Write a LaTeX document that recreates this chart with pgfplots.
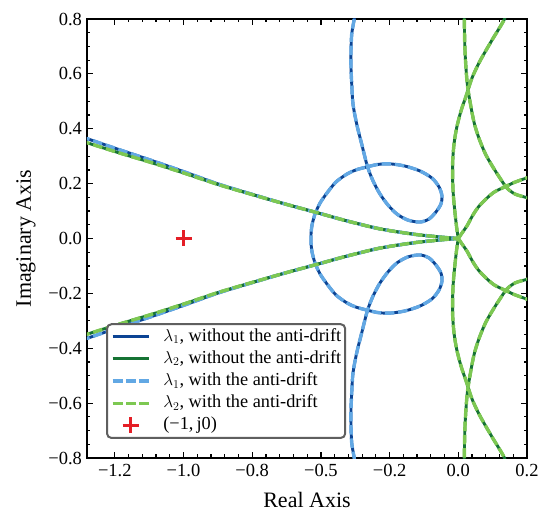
\documentclass[border=0pt]{standalone}
\usepackage{fontspec}
\setmainfont{Liberation Serif}
\usepackage{pgfplots}
\pgfplotsset{compat=1.18}
\usepackage{pgfplotstable}

\definecolor{cdblue}{RGB}{12,68,148}
\definecolor{cdgreen}{RGB}{22,115,52}
\definecolor{clblue}{RGB}{98,168,228}
\definecolor{clgreen}{RGB}{125,200,82}
\definecolor{cred}{RGB}{228,30,38}
\definecolor{cframe}{RGB}{95,95,95}

% lambda_1 / lambda_2 long branches from the left
\pgfplotstableread{
x y
-1.30 0.371
-1.281 0.364
-1.19 0.325
-1.092 0.284
-1.0 0.244
-0.90 0.199
-0.80 0.161
-0.705 0.126
-0.608 0.093
-0.524 0.064
-0.428 0.035
-0.332 0.016
-0.27 0.0075
-0.233 0.003
-0.20 0
}\LoneUp
\pgfplotstableread{
x y
-1.30 -0.371
-1.281 -0.364
-1.19 -0.325
-1.092 -0.284
-1.0 -0.244
-0.90 -0.199
-0.80 -0.161
-0.705 -0.126
-0.608 -0.093
-0.524 -0.064
-0.428 -0.035
-0.332 -0.016
-0.27 -0.0075
-0.233 -0.003
-0.20 0
}\LoneDn
\pgfplotstableread{
x y
-1.30 0.356
-1.281 0.349
-1.19 0.313
-1.092 0.276
-1.0 0.239
-0.90 0.197
-0.80 0.160
-0.705 0.126
-0.608 0.093
-0.524 0.064
-0.428 0.035
-0.332 0.016
-0.27 0.0075
-0.233 0.003
-0.20 0
}\LtwoUp
\pgfplotstableread{
x y
-1.30 -0.356
-1.281 -0.349
-1.19 -0.313
-1.092 -0.276
-1.0 -0.239
-0.90 -0.197
-0.80 -0.160
-0.705 -0.126
-0.608 -0.093
-0.524 -0.064
-0.428 -0.035
-0.332 -0.016
-0.27 -0.0075
-0.233 -0.003
-0.20 0
}\LtwoDn
% lambda_1 loop
\pgfplotstableread{
x y
-0.4978 0.847
-0.5036 0.796
-0.5103 0.745
-0.5124 0.683
-0.5124 0.621
-0.5103 0.563
-0.5066 0.490
-0.4958 0.417
-0.4812 0.344
-0.4649 0.264
-0.4483 0.210
-0.4279 0.162
-0.4047 0.122
-0.3785 0.089
-0.3464 0.067
-0.3115 0.060
-0.2853 0.071
-0.2649 0.097
-0.2504 0.126
-0.2475 0.155
-0.2562 0.188
-0.2766 0.220
-0.3115 0.246
-0.3552 0.264
-0.3988 0.272
-0.4338 0.270
-0.4658 0.261
-0.4978 0.250
-0.5240 0.235
-0.5560 0.206
-0.5822 0.166
-0.6026 0.129
-0.6172 0.089
-0.6259 0.049
-0.6288 0.016
-0.6288 0
-0.6288 -0.016
-0.6259 -0.049
-0.6172 -0.089
-0.6026 -0.129
-0.5822 -0.166
-0.5560 -0.206
-0.5240 -0.235
-0.4978 -0.250
-0.4658 -0.261
-0.4338 -0.270
-0.3988 -0.272
-0.3552 -0.264
-0.3115 -0.246
-0.2766 -0.220
-0.2562 -0.188
-0.2475 -0.155
-0.2504 -0.126
-0.2649 -0.097
-0.2853 -0.071
-0.3115 -0.060
-0.3464 -0.067
-0.3785 -0.089
-0.4047 -0.122
-0.4279 -0.162
-0.4483 -0.210
-0.4649 -0.264
-0.4812 -0.344
-0.4958 -0.417
-0.5066 -0.490
-0.5103 -0.563
-0.5124 -0.621
-0.5124 -0.683
-0.5103 -0.745
-0.5036 -0.796
-0.4978 -0.847
}\Loop
% lambda_2 branches near the origin
\pgfplotstableread{
x y
-0.1831 0.847
-0.1825 0.796
-0.1805 0.683
-0.1738 0.563
-0.1610 0.465
-0.1514 0.410
-0.1368 0.355
-0.1194 0.304
-0.0981 0.258
-0.0786 0.220
-0.0591 0.185
-0.0349 0.162
-0.0009 0.149
0.0233 0.140
}\Aup
\pgfplotstableread{
x y
-0.1831 -0.847
-0.1825 -0.796
-0.1805 -0.683
-0.1738 -0.563
-0.1610 -0.465
-0.1514 -0.410
-0.1368 -0.355
-0.1194 -0.304
-0.0981 -0.258
-0.0786 -0.220
-0.0591 -0.185
-0.0349 -0.162
-0.0009 -0.149
0.0233 -0.140
}\Adn
\pgfplotstableread{
x y
-0.0553 0.840
-0.0670 0.796
-0.1019 0.723
-0.1368 0.647
-0.1601 0.585
-0.1755 0.526
-0.1921 0.465
-0.2047 0.404
-0.2125 0.344
-0.2163 0.282
-0.2166 0.220
-0.2146 0.161
-0.2102 0.100
-0.2047 0.039
-0.2 0
}\Bup
\pgfplotstableread{
x y
-0.0553 -0.840
-0.0670 -0.796
-0.1019 -0.723
-0.1368 -0.647
-0.1601 -0.585
-0.1755 -0.526
-0.1921 -0.465
-0.2047 -0.404
-0.2125 -0.344
-0.2163 -0.282
-0.2166 -0.220
-0.2146 -0.161
-0.2102 -0.100
-0.2047 -0.039
-0.2 0
}\Bdn
\pgfplotstableread{
x y
-0.2 0
-0.1892 0.020
-0.1747 0.046
-0.1572 0.086
-0.1368 0.122
-0.0981 0.167
-0.0611 0.190
-0.0399 0.203
0 0.221
0.0233 0.228
}\Cup
\pgfplotstableread{
x y
-0.2 0
-0.1892 -0.020
-0.1747 -0.046
-0.1572 -0.086
-0.1368 -0.122
-0.0981 -0.167
-0.0611 -0.190
-0.0399 -0.203
0 -0.221
0.0233 -0.228
}\Cdn

\begin{document}
\begin{tikzpicture}
\begin{axis}[
  at={(0,0)}, anchor=south west,
  width=440bp, height=439bp, scale only axis,
  xmin=-1.281, xmax=0, ymin=-0.8, ymax=0.8,
  xtick={-1.2,-1.0,-0.8,-0.6,-0.4,-0.2,0},
  xticklabels={−1.2,−1.0,−0.8,−0.5,−0.2,0.0,0.2},
  ytick={-0.8,-0.6,-0.4,-0.2,0,0.2,0.4,0.6,0.8},
  yticklabels={−0.8,−0.6,−0.4,−0.2,0.0,0.2,0.4,0.6,0.8},
  minor x tick num=4, minor y tick num=3,
  tick align=inside, tick pos=both,
  xticklabel pos=lower, yticklabel pos=left,
  major tick length=6bp, minor tick length=3.5bp,
  every tick/.style={line width=1.2bp, black},
  axis line style={line width=1.8bp},
  ticklabel style={font=\fontsize{18.5bp}{20bp}\selectfont},
  xticklabel style={yshift=-2.5bp},
  yticklabel style={xshift=-1.5bp},
  xlabel={Real Axis}, ylabel={Imaginary Axis},
  label style={font=\fontsize{22bp}{24bp}\selectfont},
  xlabel style={at={(axis description cs:0.5,-0.0957)}, anchor=center},
  ylabel style={at={(axis description cs:-0.1386,0.5)}, anchor=center},
  legend cell align=left,
  legend image code/.code={\draw[mark repeat=2,mark phase=2,#1] plot coordinates {(0bp,0bp) (18bp,0bp) (36bp,0bp)};},
  legend style={at={(axis description cs:0.0432,0.0433)}, anchor=south west,
    draw=cframe, line width=2bp, rounded corners=4.5bp, fill=white,
    font=\fontsize{18.3bp}{20bp}\selectfont,
    inner xsep=4bp, inner ysep=4bp, row sep=5.2bp,
    nodes={inner sep=0pt, text height=13bp, text depth=4bp},
    /tikz/every odd column/.append style={column sep=13bp}},
  dk/.style={line width=2.9bp, solid, smooth},
  lt/.style={line width=3.4bp, dash pattern=on 9.5bp off 3.8bp, smooth},
]
% without the anti-drift (dark, solid)
\addplot[dk, cdblue] table {\LoneUp};
\addlegendentry{$\lambda_1$, without the anti-drift}
\addplot[dk, cdblue, forget plot] table {\LoneDn};
\addplot[dk, cdblue, forget plot] table {\Loop};
\addplot[dk, cdgreen] table {\LtwoUp};
\addlegendentry{$\lambda_2$, without the anti-drift}
\addplot[dk, cdgreen, forget plot] table {\LtwoDn};
\addplot[dk, cdgreen, forget plot] table {\Aup};
\addplot[dk, cdgreen, forget plot] table {\Adn};
\addplot[dk, cdgreen, forget plot] table {\Bup};
\addplot[dk, cdgreen, forget plot] table {\Bdn};
\addplot[dk, cdgreen, forget plot] table {\Cup};
\addplot[dk, cdgreen, forget plot] table {\Cdn};
% with the anti-drift (light, dashed)
\addplot[lt, clblue] table {\LoneUp};
\addlegendentry{$\lambda_1$, with the anti-drift}
\addplot[lt, clblue, forget plot] table {\LoneDn};
\addplot[lt, clblue, forget plot] table {\Loop};
\addplot[lt, clgreen] table {\LtwoUp};
\addlegendentry{$\lambda_2$, with the anti-drift}
\addplot[lt, clgreen, forget plot] table {\LtwoDn};
\addplot[lt, clgreen, forget plot] table {\Aup};
\addplot[lt, clgreen, forget plot] table {\Adn};
\addplot[lt, clgreen, forget plot] table {\Bup};
\addplot[lt, clgreen, forget plot] table {\Bdn};
\addplot[lt, clgreen, forget plot] table {\Cup};
\addplot[lt, clgreen, forget plot] table {\Cdn};
% (-1, j0)
\addplot[only marks, mark=+, mark size=8bp, cred, mark options={solid, line width=2.6bp}]
  coordinates {(-1,0)};
\addlegendentry{(−1,\,j0)}
\end{axis}
\pgfresetboundingbox
\path[use as bounding box] (-87bp,-65bp) rectangle (463bp,458bp);
\end{tikzpicture}
\end{document}
